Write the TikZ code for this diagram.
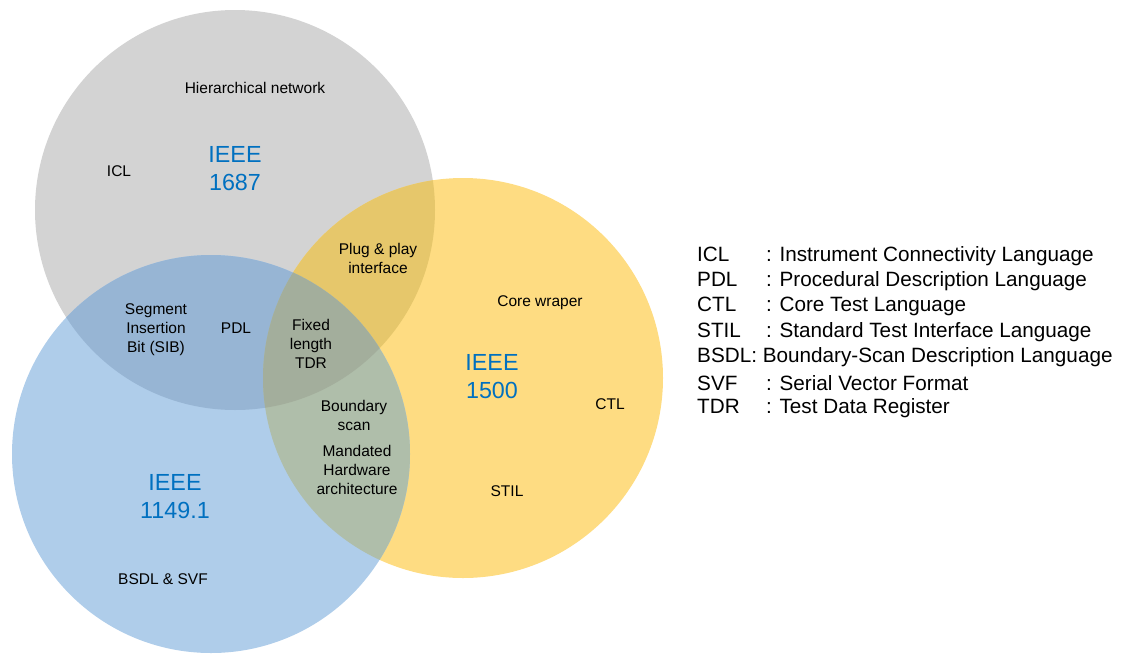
\documentclass[tikz,border=0pt]{standalone}
\usepackage{fontspec}
\setmainfont{Liberation Sans}
\definecolor{cGray}{HTML}{D3D3D3}
\definecolor{cYel}{HTML}{FEDC82}
\definecolor{cBlue}{HTML}{AFCDEA}
\definecolor{cGY}{HTML}{E6C76B}
\definecolor{cGB}{HTML}{97B5D4}
\definecolor{cBY}{HTML}{AFBEAA}
\definecolor{cGBY}{HTML}{A3AE9C}
\definecolor{ieee}{HTML}{0070C0}
\tikzset{
  lbl/.style={align=center, font=\fontsize{15.5}{19}\selectfont, inner sep=0pt},
  std/.style={align=center, text=ieee, font=\fontsize{23.3}{28}\selectfont, inner sep=0pt},
  leg/.style={anchor=west, font=\fontsize{20.7}{25.4}\selectfont, inner sep=0pt, align=left}
}
\newcommand{\ab}[1]{\makebox[69pt][l]{#1}}
\begin{document}
\begin{tikzpicture}[x=1pt,y=-1pt]
\useasboundingbox (0,0) rectangle (1132,654);
% the three standards
\def\gray{(235,210) circle [radius=200pt]}
\def\yel{(463,378) circle [radius=200pt]}
\def\blue{(211,454) circle [radius=199pt]}
\fill[cGray] \gray;
\fill[cYel] \yel;
\fill[cBlue] \blue;
% pairwise overlaps
\begin{scope}\clip \gray; \fill[cGY] \yel; \end{scope}
\begin{scope}\clip \gray; \fill[cGB] \blue; \end{scope}
\begin{scope}\clip \blue; \fill[cBY] \yel; \end{scope}
% common region
\begin{scope}\clip \gray; \clip \blue; \fill[cGBY] \yel; \end{scope}

% standard names
\node[std] (s1687) at (235,169) {IEEE\\1687};
\node[std] (s1500) at (492,377) {IEEE\\1500};
\node[std] (s1149) at (175,497) {IEEE\\1149.1};

% features
\node[lbl] (hier) at (255,88) {Hierarchical network};
\node[lbl] (icl) at (119,171) {ICL};
\node[lbl] (sib) at (156,330) {Segment\\Insertion\\Bit (SIB)};
\node[lbl] (pdl) at (236,328) {PDL};
\node[lbl] (tdr) at (311,344) {Fixed\\length\\TDR};
\node[lbl] (pnp) at (378,258) {Plug \& play\\interface};
\node[lbl] (bscan) at (354,415) {Boundary\\scan};
\node[lbl] (mha) at (357,470) {Mandated\\Hardware\\architecture};
\node[lbl] (wrap) at (540,303) {Core wraper};
\node[lbl] (ctl) at (610,404) {CTL};
\node[lbl] (stil) at (507,491) {STIL};
\node[lbl] (bsdl) at (163,579) {BSDL \& SVF};

% abbreviations
\node[leg] (l1) at (697,256) {\ab{ICL}: Instrument Connectivity Language};
\node[leg] (l2) at (697,281) {\ab{PDL}: Procedural Description Language};
\node[leg] (l3) at (697,306) {\ab{CTL}: Core Test Language};
\node[leg] (l4) at (697,332) {\ab{STIL}: Standard Test Interface Language};
\node[leg] (l5) at (697,357) {BSDL: Boundary-Scan Description Language};
\node[leg] (l6) at (697,383) {\ab{SVF}: Serial Vector Format};
\node[leg] (l7) at (697,408) {\ab{TDR}: Test Data Register};
\end{tikzpicture}
\end{document}
